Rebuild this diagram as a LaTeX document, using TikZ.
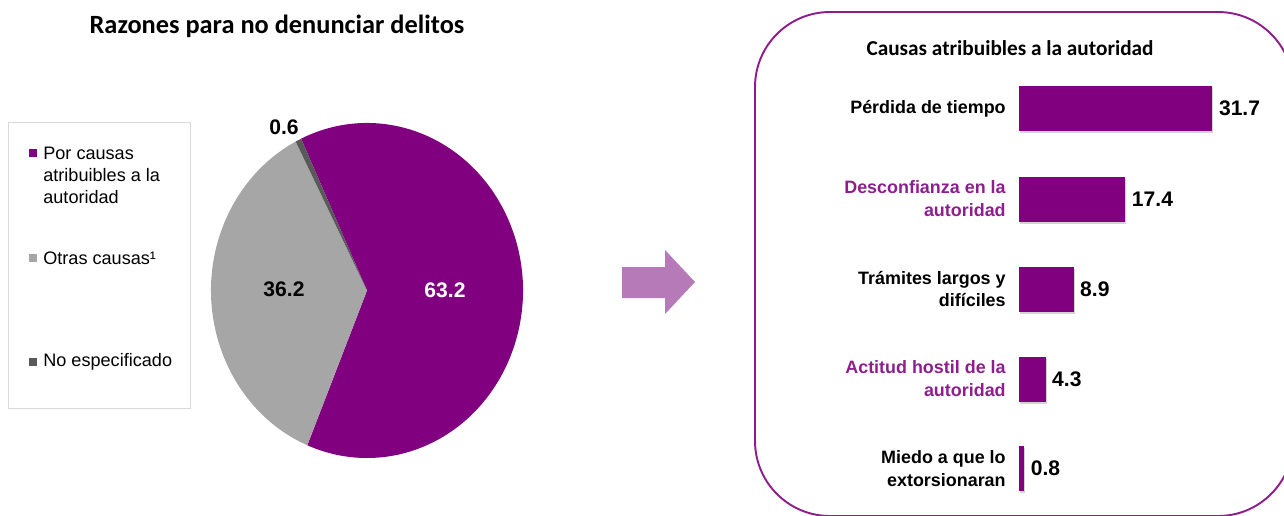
\documentclass[tikz,border=0pt]{standalone}
\usepackage{fontspec}
\setmainfont{Liberation Sans}
\newfontfamily\titlefont{Carlito}
\usetikzlibrary{positioning,shadows}

\definecolor{morado}{HTML}{800080}
\definecolor{moradotxt}{HTML}{8E1E8E}
\definecolor{moradoclaro}{HTML}{B77AB9}
\definecolor{grisotras}{HTML}{A6A6A6}
\definecolor{grisne}{HTML}{595959}
\definecolor{grisborde}{HTML}{D9D9D9}

\tikzset{
  titulo/.style={font=\titlefont\bfseries\fontsize{15}{18}\selectfont},
  subtitulo/.style={font=\titlefont\bfseries\fontsize{12.1}{14}\selectfont},
  leyenda/.style={anchor=west, align=left, inner sep=0pt, font=\fontsize{10.3}{12.5}\selectfont},
  marca/.style={minimum size=8*0.02cm, inner sep=0pt},
  barra/.style={fill=morado, anchor=west, inner sep=0pt, minimum height=0.9cm,
    drop shadow={shadow xshift=0.6pt, shadow yshift=-1.2pt, opacity=0.35}},
  valor/.style={inner sep=0pt, font=\bfseries\fontsize{12}{14}\selectfont},
  etiqueta/.style={align=right, inner sep=0pt, font=\bfseries\fontsize{10.2}{13}\selectfont}
}

\begin{document}
\begin{tikzpicture}[x=0.02cm, y=-0.02cm]
\useasboundingbox (0,0) rectangle (1284,515);

\node[titulo] (titulo) at (277,26) {Razones para no denunciar delitos};

% leyenda
\draw[grisborde] (8,122) rectangle (190,408);
\node[marca, fill=morado] (m1) at (33,153) {};
\node[leyenda] (l1) at (43,175) {Por causas\\atribuibles a la\\autoridad};
\node[marca, fill=grisotras] (m2) at (33,258) {};
\node[leyenda] (l2) at (43,258) {Otras causas¹};
\node[marca, fill=grisne] (m3) at (33,362) {};
\node[leyenda] (l3) at (43,362) {No especificado};

% pastel
\coordinate (c) at (367,290.5);
\fill[morado] (c) -- +(-115:156 and 167.5)
  arc[start angle=-115, end angle=112.5, x radius=156, y radius=167.5] -- cycle;
\fill[grisotras] (c) -- +(112.5:156 and 167.5)
  arc[start angle=112.5, end angle=242.8, x radius=156, y radius=167.5] -- cycle;
\fill[grisne] (c) -- +(242.8:156 and 167.5)
  arc[start angle=242.8, end angle=245, x radius=156, y radius=167.5] -- cycle;
\node[valor] (p1) at (445,290) {\textcolor{white}{63.2}};
\node[valor] (p2) at (284,289) {36.2};
\node[valor] (p3) at (284,127) {0.6};

% flecha
\fill[moradoclaro] (622,267) -- (665,267) -- (665,250) -- (695,282)
  -- (665,314) -- (665,298) -- (622,298) -- cycle;

% recuadro derecho
\draw[moradotxt, line width=1.1pt, rounded corners=1.5cm] (755,12) rectangle (1293,516);
\node[subtitulo] (subtitulo) at (1010,48) {Causas atribuibles a la autoridad};

\foreach \i/\v/\y/\col/\txt in {
  1/31.7/108.5/black/{P\'erdida de tiempo},
  2/17.4/199/moradotxt/{Desconfianza en la\\autoridad},
  3/8.9/289/black/{Tr\'amites largos y\\dif\'iciles},
  4/4.3/379/moradotxt/{Actitud hostil de la\\autoridad},
  5/0.8/468.5/black/{Miedo a que lo\\extorsionaran}}{
  \node[barra, minimum width=\v*0.1218cm] (barra\i) at (1019,\y) {};
  \node[valor, right=3.4pt of barra\i] (valor\i) {\v};
  \node[etiqueta, text=\col, left=7.4pt of barra\i] (etiq\i) {\txt};
}
\end{tikzpicture}
\end{document}
